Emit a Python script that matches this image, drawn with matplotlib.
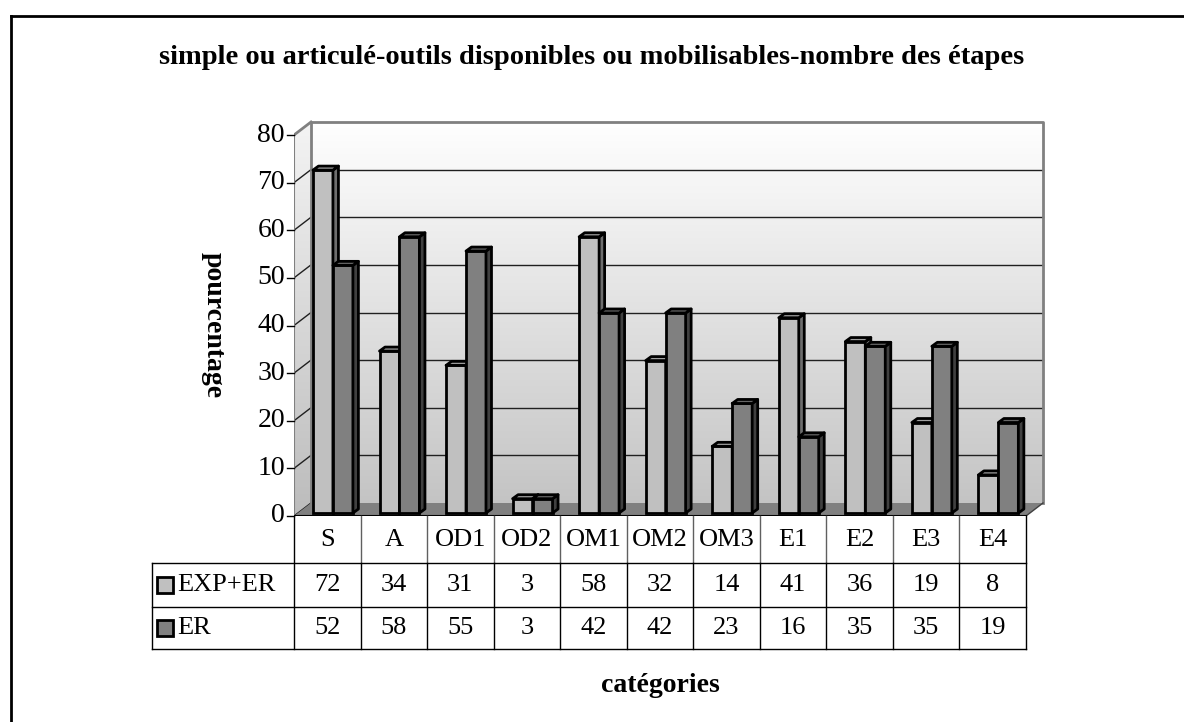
import matplotlib.pyplot as plt
import numpy as np
from matplotlib.patches import Polygon
from matplotlib.lines import Line2D
from matplotlib.colors import LinearSegmentedColormap

# données
categories = ['S', 'A', 'OD1', 'OD2', 'OM1', 'OM2', 'OM3', 'E1', 'E2', 'E3', 'E4']
exp_er = [72, 34, 31, 3, 58, 32, 14, 41, 36, 19, 8]
er = [52, 58, 55, 3, 42, 42, 23, 16, 35, 35, 19]
series_names = ['EXP+ER', 'ER']
yticks = [0, 10, 20, 30, 40, 50, 60, 70, 80]

W, H = 1184, 722
fig = plt.figure(figsize=(W / 100, H / 100), dpi=100)
plt.rcParams['font.family'] = ['Liberation Serif', 'DejaVu Serif']
FS = 19

# axe principal en pixels : x 294..1050, y 516 (0) .. 115
px_x0, px_x1 = 294, 1050
px_yb, px_yt = 516, 115
sx = (1026 - 294) / len(categories)   # px par catégorie
sy = (516 - 135) / 80.0               # px par unité
ax = fig.add_axes([px_x0 / W, 1 - px_yb / H, (px_x1 - px_x0) / W, (px_yb - px_yt) / H])
ax.set_xlim(0, (px_x1 - px_x0) / sx)
ax.set_ylim(0, (px_yb - px_yt) / sy)
ax.set_axis_off()

n = len(categories)
ymax = 80
DX, DY = 17 / sx, 13 / sy           # profondeur des murs
fx, fy = 4 / sx, 3 / sy             # position avant des barres
bx, by = 5.5 / sx, 4 / sy           # profondeur des barres

# murs en dégradé
cmap = LinearSegmentedColormap.from_list('g', ['#c4c4c4', '#ffffff'])
ax.imshow(np.linspace(0, 1, 256).reshape(-1, 1), extent=(DX, n + DX, DY, ymax + DY),
          cmap=cmap, aspect='auto', origin='lower', zorder=0)
side = Polygon([(0, 0), (DX, DY), (DX, ymax + DY), (0, ymax)], closed=True,
               facecolor='none', edgecolor='none')
ax.add_patch(side)
im = ax.imshow(np.linspace(0, 1, 256).reshape(-1, 1), extent=(0, DX, 0, ymax + DY),
               cmap=LinearSegmentedColormap.from_list('g2', ['#bcbcbc', '#f4f4f4']),
               aspect='auto', origin='lower', zorder=0)
im.set_clip_path(side)

# quadrillage
for t in yticks[1:-1]:
    ax.plot([DX, n + DX], [t + DY, t + DY], color='#202020', lw=1, zorder=1)
for t in yticks[:-1]:
    ax.plot([0, DX], [t, t + DY], color='#202020', lw=1, zorder=1)

# sol
ax.add_patch(Polygon([(0, 0), (n, 0), (n + DX, DY), (DX, DY)], closed=True,
                     facecolor='#808080', edgecolor='none', zorder=1))
# bords des murs
ax.plot([DX, DX, n + DX, n + DX], [DY, ymax + DY, ymax + DY, DY], color='#808080', lw=2, zorder=1)
ax.plot([0, DX], [ymax, ymax + DY], color='#808080', lw=2, zorder=1)
ax.plot([n, n + DX], [0, DY], color='#404040', lw=1, zorder=1)

# axe vertical
ax.plot([0, 0], [0, ymax], color='#808080', lw=1.5, zorder=5)
ax.plot([0, n], [0, 0], color='black', lw=1.5, zorder=5)
tick_len = 7 / sx
for t in yticks:
    ax.plot([-tick_len, 0], [t, t], color='black', lw=1, clip_on=False, zorder=5)
    ax.text(-tick_len - 2 / sx, t, str(t), ha='right', va='center', fontsize=20, clip_on=False)

# barres
styles = [('#c0c0c0', '#a0a0a0', '#6e6e6e'), ('#808080', '#666666', '#404040')]
w = 0.3
x = np.arange(n)
for i in range(n):
    for s, vals in enumerate([exp_er, er]):
        front, top, sidec = styles[s]
        x0 = x[i] + 0.225 + s * w + fx
        v = vals[i]
        z = 3 + i * 0.01 + s * 0.001
        ax.bar(x0, v, width=w, bottom=fy, align='edge', color=front, edgecolor='black',
               linewidth=2, zorder=z)
        ax.add_patch(Polygon([(x0 + w, fy), (x0 + w + bx, fy + by), (x0 + w + bx, fy + v + by),
                              (x0 + w, fy + v)], closed=True, facecolor=sidec, edgecolor='black',
                             lw=2, joinstyle='round', zorder=z))
        ax.add_patch(Polygon([(x0, fy + v), (x0 + bx, fy + v + by), (x0 + w + bx, fy + v + by),
                              (x0 + w, fy + v)], closed=True, facecolor=top, edgecolor='black',
                             lw=2, joinstyle='round', zorder=z))

# table de données (en pixels de la figure)
def fl(xs, ys, c='black', lw=1.0):
    fig.add_artist(Line2D([xx / W for xx in xs], [1 - yy / H for yy in ys], color=c, lw=lw))

cell = sx
t_left, t_right = 294, 294 + n * cell
r0, r1, r2, r3 = 516, 563, 607, 649
lg_left = 152
fl([t_left, t_left], [r0, r3])
fl([t_right, t_right], [r0, r3])
for k in range(1, n):
    xx = t_left + k * cell
    fl([xx, xx], [r0, r1], c='#606060')
    fl([xx, xx], [r1, r3])
fl([lg_left, t_right], [r1, r1])
fl([lg_left, t_right], [r2, r2])
fl([lg_left, t_right], [r3, r3])
fl([lg_left, lg_left], [r1, r3])
for k, c in enumerate(categories):
    fig.text((t_left + (k + 0.5) * cell) / W, 1 - (r0 + r1) / 2 / H, c, ha='center', va='center', fontsize=FS)
for row, vals, (yy0, yy1) in [(0, exp_er, (r1, r2)), (1, er, (r2, r3))]:
    yc = (yy0 + yy1) / 2
    for k, v in enumerate(vals):
        fig.text((t_left + (k + 0.5) * cell) / W, 1 - yc / H, str(v), ha='center', va='center', fontsize=FS)
    fig.patches.append(plt.Rectangle((157 / W, 1 - (yc + 8) / H), 16 / W, 16 / H, transform=fig.transFigure,
                                     facecolor=styles[row][0], edgecolor='black', lw=2, figure=fig))
    fig.text(177 / W, 1 - yc / H, series_names[row], ha='left', va='center', fontsize=FS)

# cadre extérieur
fl([11, 11], [16, 730], c='black', lw=2)
fl([11, 1190], [16, 16], c='black', lw=2)

fig.text(592 / W, 1 - 58 / H, 'simple ou articulé-outils disponibles ou mobilisables-nombre des étapes',
         ha='center', va='center', fontsize=20.5, fontweight='bold')
fig.text(213 / W, 1 - 325 / H, 'pourcentage', ha='center', va='center', rotation=270,
         fontsize=20, fontweight='bold')
fig.text(660 / W, 1 - 686 / H, 'catégories', ha='center', va='center', fontsize=20, fontweight='bold')

fig.savefig('out.png', dpi=100)
